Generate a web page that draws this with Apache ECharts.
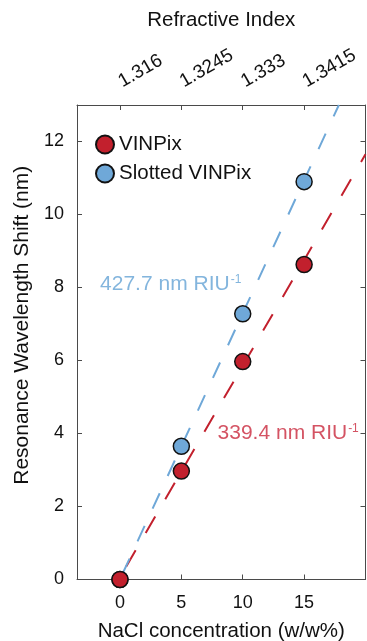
<!DOCTYPE html>
<html><head><meta charset="utf-8">
<script src="https://cdn.jsdelivr.net/npm/echarts@6/dist/echarts.min.js"></script>
<style>html,body{margin:0;padding:0;background:#fff}#c{width:367px;height:641px}</style>
</head><body><div id="c"></div>
<script>
// NaCl concentration (w/w%)
const concentration = [0, 5, 10, 15];
// Resonance wavelength shift (nm)
const vinpix = [0, 2.97, 5.97, 8.63];
const slotted = [0, 3.65, 7.28, 10.9];
// top axis tick labels
const refractiveTicks = ['1.316', '1.3245', '1.333', '1.3415'];
const yTicks = [0, 2, 4, 6, 8, 10, 12];
// fitted lines (endpoints)
const vinpixFitX = [0.5, 20];
const vinpixFitY = [0.35, 11.65];
const slottedFitX = [0.2, 17.83];
const slottedFitY = [0.15, 13];
// sensitivity annotations
const annoText = ['427.7 nm RIU', '339.4 nm RIU'];
const annoX = [-1.62, 7.95];
const annoY = [8.1, 4.0];

const RED = '#c2202d', BLUE = '#6fa8d8';
const RED_T = '#c9283c', BLUE_T = '#64a2d4';
const FONT = 'Liberation Sans, Arial, Helvetica, sans-serif';
const AX = '#4a4a4a';

const chart = echarts.init(document.getElementById('c'), null, {renderer: 'canvas'});
const zip = (xs, ys) => xs.map((x, i) => [x, ys[i]]);

const baseX = {
  type: 'value', min: -3.5, max: 20,
  axisLine: {show: true, onZero: false, lineStyle: {color: AX, width: 1}},
  axisTick: {show: true, inside: true, length: 5, customValues: concentration, lineStyle: {color: AX}},
  splitLine: {show: false},
  nameLocation: 'middle',
  nameTextStyle: {fontFamily: FONT, fontSize: 20.5, color: '#111'}
};
const baseY = {
  type: 'value', min: 0, max: 13,
  axisLine: {show: true, onZero: false, lineStyle: {color: AX, width: 1}},
  axisTick: {show: true, inside: true, length: 5, customValues: yTicks, lineStyle: {color: AX}},
  splitLine: {show: false}
};

chart.setOption({
  animation: false,
  backgroundColor: '#fff',
  textStyle: {fontFamily: FONT},
  grid: {left: 77, right: 1.5, top: 105, bottom: 61.5, containLabel: false, outerBoundsMode: 'none'},
  legend: {
    data: ['VINPix', 'Slotted VINPix'],
    orient: 'vertical', left: 90, top: 129,
    itemWidth: 18, itemHeight: 18, itemGap: 8,
    icon: 'circle',
    textStyle: {fontFamily: FONT, fontSize: 20.5, color: '#111'}
  },
  xAxis: [
    Object.assign({}, baseX, {
      position: 'bottom',
      name: 'NaCl concentration (w/w%)', nameGap: 41,
      axisLabel: {show: true, customValues: concentration, margin: 15,
        fontFamily: FONT, fontSize: 18, color: '#111'}
    }),
    Object.assign({}, baseX, {
      position: 'top',
      name: 'Refractive Index', nameGap: 74,
      axisLabel: {show: true, customValues: concentration, rotate: -30, margin: 22,
        fontFamily: FONT, fontSize: 19, color: '#111',
        formatter: v => refractiveTicks[concentration.indexOf(v)] || ''}
    })
  ],
  yAxis: [
    Object.assign({}, baseY, {
      position: 'left',
      name: 'Resonance Wavelength Shift (nm)', nameLocation: 'middle', nameGap: 39,
      nameTextStyle: {fontFamily: FONT, fontSize: 21, color: '#111', padding: [0, 0, 0, 34]},
      axisLabel: {show: true, customValues: yTicks, margin: 13,
        fontFamily: FONT, fontSize: 18, color: '#111'}
    }),
    Object.assign({}, baseY, {
      position: 'right',
      axisLabel: {show: false}
    })
  ],
  series: [
    {
      name: 'VINPix fit', type: 'line', data: zip(vinpixFitX, vinpixFitY),
      symbol: 'none', silent: true, clip: true, z: 1,
      lineStyle: {color: RED, width: 2, type: [19, 20]}
    },
    {
      name: 'Slotted fit', type: 'line', data: zip(slottedFitX, slottedFitY),
      symbol: 'none', silent: true, clip: true, z: 1,
      lineStyle: {color: BLUE, width: 2, type: [17, 19]}
    },
    {
      name: 'Slotted VINPix', type: 'scatter', data: zip(concentration, slotted),
      symbol: 'circle', symbolSize: 16, z: 3,
      itemStyle: {color: BLUE, borderColor: '#111', borderWidth: 1.5, opacity: 1}
    },
    {
      name: 'VINPix', type: 'scatter', data: zip(concentration, vinpix),
      symbol: 'circle', symbolSize: 16, z: 4,
      itemStyle: {color: RED, borderColor: '#111', borderWidth: 1.5, opacity: 1}
    },
    {
      name: 'annotations', type: 'scatter', symbolSize: 0, silent: true, z: 5,
      data: annoText.map((t, i) => ({
        value: [annoX[i], annoY[i]],
        label: {
          show: true, position: 'right', distance: 0,
          formatter: '{a|' + t + '}{b|-1}',
          rich: {
            a: {fontFamily: FONT, fontSize: 21, color: i === 0 ? BLUE_T : RED_T},
            b: {fontFamily: FONT, fontSize: 12, color: i === 0 ? BLUE_T : RED_T, verticalAlign: 'top', padding: [0, 0, 0, 1]}
          }
        }
      }))
    }
  ]
});
</script></body></html>
